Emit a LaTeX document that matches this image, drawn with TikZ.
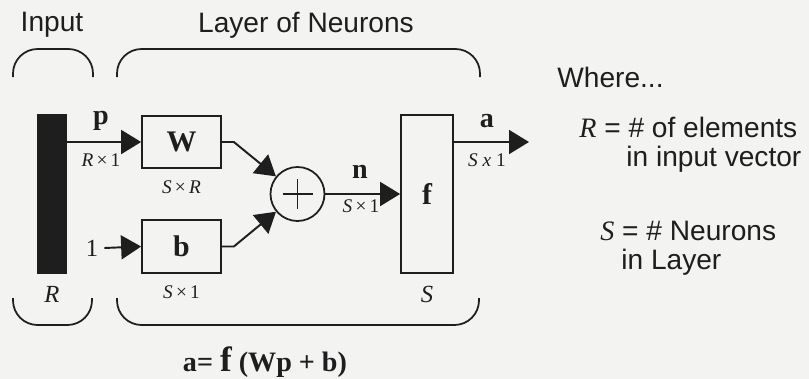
\documentclass[tikz,border=0pt]{standalone}
\usepackage{fontspec}
\setmainfont{Liberation Serif}
\setsansfont{Liberation Sans}
\usepackage{tikz}
\usetikzlibrary{positioning, arrows.meta}
\definecolor{ink}{RGB}{30,30,30}
\definecolor{paper}{RGB}{243,243,241}

\begin{document}
\begin{tikzpicture}[x=0.02cm, y=-0.02cm,
            box/.style={draw=ink, line width=1pt, inner sep=0pt, text=ink,
                        font=\bfseries\fontsize{17}{17}\selectfont},
            sym/.style={font=\bfseries\fontsize{16}{16}\selectfont, text=ink, inner sep=1pt},
            dim/.style={font=\fontsize{11}{11}\selectfont, text=ink, inner sep=1pt},
            head/.style={font=\sffamily\fontsize{16}{16}\selectfont, text=ink, inner sep=0pt},
            note/.style={font=\sffamily\fontsize{16}{16}\selectfont, text=ink, inner sep=0pt, anchor=west},
            arr/.style={-{Triangle[length=0.4cm, width=0.48cm]}, line width=1.1pt, draw=ink},
            brace/.style={line width=1pt, draw=ink, rounded corners=14pt}
        ]
            \useasboundingbox (0,0) rectangle (809,379);
            \fill[paper] (0,0) rectangle (809,379);

            % Headings and braces
            \node[head] (inp) at (52,25) {Input};
            \node[head] (lay) at (306,25) {Layer of Neurons};
            \draw[brace] (13,77) |- (93,49) -- (93,77);
            \draw[brace] (117,77) |- (480,49) -- (480,77);
            \draw[brace] (13,298) |- (92,325) -- (92,298);
            \draw[brace] (117,298) |- (479,325) -- (479,298);

            % Input vector
            \node[box, fill=ink, minimum width=0.56cm, minimum height=3.16cm] (x) at (52,194) {};
            \node[dim, font=\itshape\fontsize{14}{14}\selectfont, below=2mm of x] (xr) {R};

            % Layer
            \node[box, minimum width=1.58cm, minimum height=1.04cm] (W) at (181.5,142) {W};
            \node[box, minimum width=1.58cm, minimum height=1.06cm] (b) at (181.5,246.5) {b};
            \node[draw=ink, line width=1pt, circle, minimum size=1.08cm, inner sep=0pt] (sum) at (297.5,194) {};
            \draw[ink, line width=0.8pt] (sum.center) ++(-15,0) -- ++(30,0)
                                         (sum.center) ++(0,-15) -- ++(0,30);
            \node[box, minimum width=1.04cm, minimum height=3.16cm] (f) at (427,194) {f};
            \node[dim, font=\itshape\fontsize{14}{14}\selectfont, below=2mm of f] (fs) {S};
            \node[text=ink, font=\fontsize{14}{14}\selectfont] (one) at (92,248) {1};
            \coordinate (aout) at (529,142);

            \draw[arr] (x.east |- W.west) -- (W.west);
            \draw[arr] (one.east) -- (b.west);
            \draw[arr] (W.east) -- ++(12,0) -- (sum);
            \draw[arr] (b.east) -- ++(12,0) -- (sum);
            \draw[arr] (sum) -- (f);
            \draw[arr] (f.east |- W.east) -- (aout);

            % Labels
            \node[sym] (p) at (101,121) {p};
            \node[dim] (pdim) at (101,160) {\textit{R}\,×\,1};
            \node[dim, below=2mm of W] (Wdim) {\textit{S}\,×\,\textit{R}};
            \node[dim, below=2mm of b] (bdim) {\textit{S}\,×\,1};
            \node[sym] (n) at (360,172) {n};
            \node[dim] (ndim) at (361,206) {\textit{S}\,×\,1};
            \node[sym] (a) at (487,121) {a};
            \node[dim] (adim) at (487,160) {\textit{S x} 1};

            % Where...
            \node[note] (where) at (557,77) {Where...};
            \node[note] (rdef) at (579,127) {{\rmfamily\itshape R} = \# of elements};
            \node[note] (rdef2) at (626,159) {in input vector};
            \node[note] (sdef) at (600,231) {{\rmfamily\itshape S} = \# Neurons};
            \node[note] (sdef2) at (621,262) {in Layer};

            % Equation
            \node[text=ink, font=\bfseries\fontsize{16}{16}\selectfont] (eq) at (265,362)
                {a= {\fontsize{20}{20}\selectfont f} (Wp + b)};
\end{tikzpicture}
\end{document}
